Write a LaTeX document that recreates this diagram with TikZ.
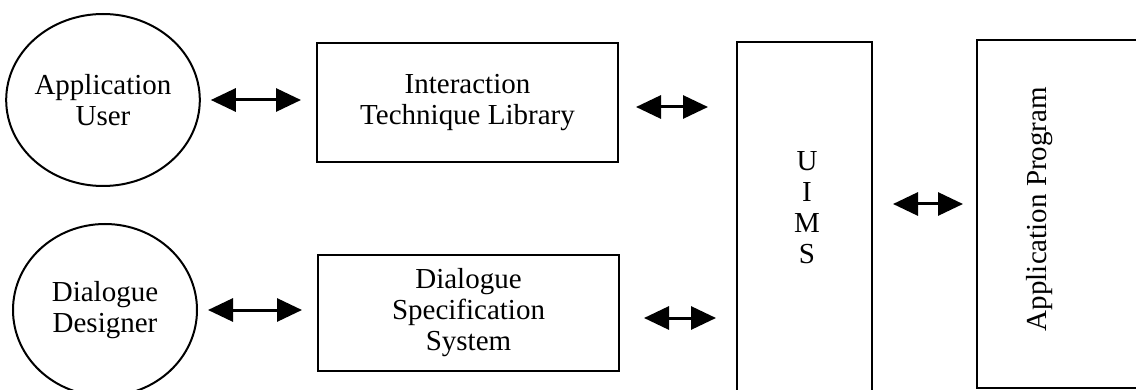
\documentclass[tikz,border=0pt]{standalone}
\usepackage{fontspec}
\setmainfont{Liberation Serif}
\usetikzlibrary{arrows.meta,calc,shapes.geometric}
\begin{document}
\begin{tikzpicture}[x=0.5pt,y=-0.5pt,
  every node/.style={font=\fontsize{14.5pt}{15.5pt}\selectfont, align=center, inner sep=0pt},
  actor/.style={ellipse, draw, line width=1pt, minimum width=92pt, minimum height=86pt},
  box/.style={rectangle, draw, line width=1pt},
  bi/.style={{Triangle[length=12.5pt,width=11.5pt]}-{Triangle[length=12.5pt,width=11.5pt]}, line width=1.5pt}]
\useasboundingbox (0,0) rectangle (1136,390);
\clip (0,0) rectangle (1136,390);
\node[actor] (au) at (103,100) {Application\\User};
\node[actor] (dd) at (105,310) {Dialogue\\Designer};
\node[box, minimum width=150.5pt, minimum height=59.5pt] (itl) at (467.5,102.5) {Interaction\\Technique Library};
\node[box, minimum width=150.5pt, minimum height=58pt] (dss) at (468.5,313) {Dialogue\\Specification\\System};
\node[box, minimum width=67.5pt, minimum height=194pt] (uims) at (804.5,236) {};
\node (uimstext) at (807,208) {U\\I\\M\\S};
\node[box, minimum width=91.5pt, minimum height=174pt] (ap) at (1068.5,214) {};
\node[rotate=90] (aptext) at (1040,209) {Application Program};
\draw[bi, shorten <=5pt, shorten >=7.5pt] (au.east) -- (au.east -| itl.west);
\draw[bi, shorten <=5pt, shorten >=7.5pt] (dd.east) -- (dd.east -| dss.west);
\draw[bi, shorten <=8.5pt, shorten >=14pt] ([yshift=-2.25pt]itl.east) -- ([yshift=-2.25pt]itl.east -| uims.west);
\draw[bi, shorten <=12pt, shorten >=10pt] ([yshift=-2.5pt]dss.east) -- ([yshift=-2.5pt]dss.east -| uims.west);
\draw[bi, shorten <=10pt, shorten >=6.5pt] ([yshift=16pt]uims.east) -- ([yshift=16pt]uims.east -| ap.west);
\end{tikzpicture}
\end{document}
